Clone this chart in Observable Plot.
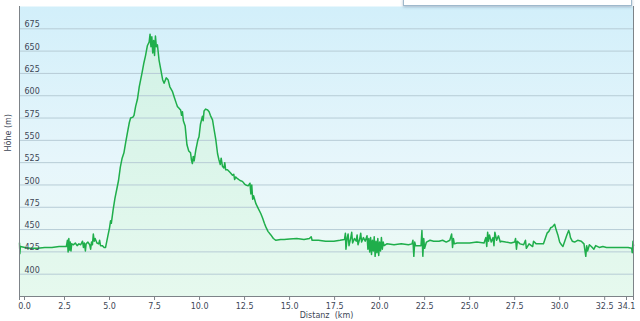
<!DOCTYPE html>
<html>
<head>
<meta charset="utf-8">
<script src="https://cdn.jsdelivr.net/npm/d3@7"></script>
<script src="https://cdn.jsdelivr.net/npm/@observablehq/plot@0.6"></script>
<style>
  html, body { margin: 0; padding: 0; background: #fff; }
  #wrap { position: relative; width: 640px; height: 321px; overflow: hidden; }
  #popup { position: absolute; left: 403px; top: -2px; width: 227px; height: 6px;
           background: #fff; border: 1px solid #9fb9cc; box-shadow: 0 1px 3px rgba(90,120,150,0.5); z-index: 2; }
</style>
</head>
<body>
<div id="wrap"><div id="popup"></div></div>
<script>
// Distance along the route (km)
const distKm = [
  0.00,0.02,0.05,0.3,0.6,1.0,1.4,1.8,2.2,2.6,2.66,2.70,2.74,2.78,2.82,2.86,2.90,3.0,3.1,3.2,
  3.3,3.4,3.5,3.55,3.6,3.66,3.7,3.8,3.9,3.95,4.0,4.05,4.1,4.15,4.2,4.3,4.4,4.45,4.5,4.6,
  4.7,4.78,4.9,5.0,5.06,5.1,5.2,5.3,5.43,5.5,5.6,5.7,5.8,5.9,5.99,6.1,6.17,6.3,6.36,6.45,
  6.55,6.65,6.73,6.8,6.91,7.0,7.1,7.2,7.25,7.3,7.35,7.4,7.45,7.5,7.55,7.6,7.66,7.75,7.84,7.95,
  8.03,8.15,8.25,8.35,8.49,8.6,8.7,8.77,8.9,8.95,9.0,9.05,9.1,9.2,9.3,9.4,9.5,9.55,9.6,9.65,
  9.7,9.79,9.85,9.9,9.97,10.05,10.16,10.2,10.25,10.34,10.45,10.53,10.6,10.72,10.8,10.9,11.0,11.08,11.15,11.2,
  11.27,11.35,11.4,11.45,11.55,11.7,11.83,11.9,11.95,12.0,12.11,12.25,12.38,12.5,12.57,12.7,12.8,12.85,12.9,12.95,
  13.0,13.13,13.25,13.4,13.5,13.6,13.68,13.8,13.96,14.1,14.24,14.5,14.7,15.0,15.4,15.8,16.1,16.2,16.25,16.6,
  17.0,17.46,17.8,18.05,18.1,18.13,18.2,18.25,18.3,18.4,18.45,18.5,18.6,18.7,18.75,18.8,18.9,18.95,19.0,19.1,
  19.2,19.3,19.35,19.4,19.45,19.5,19.55,19.6,19.65,19.7,19.75,19.8,19.85,19.9,19.95,20.0,20.05,20.1,20.15,20.2,
  20.25,20.4,20.8,21.2,21.6,21.8,21.85,21.9,21.95,22.0,22.3,22.35,22.4,22.45,22.5,22.6,22.8,23.0,23.3,23.5,
  23.7,23.9,24.0,24.05,24.1,24.15,24.3,24.6,25.0,25.4,25.8,25.9,25.95,26.0,26.05,26.1,26.2,26.3,26.35,26.4,
  26.5,26.6,26.7,26.75,27.0,27.3,27.5,27.55,27.6,27.65,27.8,28.0,28.1,28.15,28.3,28.5,28.55,28.7,29.0,29.1,
  29.2,29.3,29.4,29.5,29.6,29.72,29.8,29.9,30.0,30.1,30.18,30.3,30.4,30.5,30.55,30.6,30.7,30.83,31.0,31.2,
  31.35,31.45,31.5,31.55,31.65,31.76,31.9,32.0,32.2,32.4,32.6,32.8,33.0,33.4,33.8,34.0,34.03,34.07,34.1
];
// Elevation (m)
const elevM = [
  435,423,431,430,429,429,430,430,431,431,438,425,440,427,436,426,434,433,435,432,
  434,433,437,430,435,426,434,436,433,428,436,433,445,437,440,435,434,438,432,432,
  430,430,442,452,460,457,472,485,498,505,520,530,536,548,558,570,575,576,578,588,
  596,610,618,625,637,645,656,660,669,655,666,648,662,645,667,655,657,640,630,618,
  614,620,618,610,605,598,592,588,585,584,578,582,572,566,545,538,536,528,524,532,
  527,539,545,550,554,568,577,572,583,585,584,582,578,573,563,551,535,528,523,530,
  521,519,525,517,517,514,511,512,506,509,507,505,504,501,500,499,502,490,500,484,
  488,479,474,468,463,457,453,448,444,440,438,439,439,439.5,440,439,440,442,438,438,
  437,437,438,439,446,428,441,445,432,441,447,435,440,437,444,433,440,446,436,441,
  437,443,428,440,425,441,422,438,426,442,420,437,424,440,421,436,426,441,428,436,
  432,434,433,434,433,434,438,420,436,432,432,449,420,440,429,436,438,437,437,438,
  436,438,445,430,440,434,435,435,435,436,435,441,431,447,437,444,436,441,432,447,
  438,443,436,437,436,435,436,440,428,437,434,433,438,429,434,431,437,434,434,434,
  440,446,448,452,453,456,450,444,436,433,431,438,444,449,446,441,437,436,438,437,
  434,420,432,426,433,431,428,432,430,431,430,430,430,430,430,429,424,437,432
];
const xTicks = [0, 2.5, 5, 7.5, 10, 12.5, 15, 17.5, 20, 22.5, 25, 27.5, 30, 32.5, 34.1];
const yTicks = [400, 425, 450, 475, 500, 525, 550, 575, 600, 625, 650, 675];
const xDomain = [0, 34.1];
const yDomain = [375, 700];
const xTitle = "Distanz  (km)";
const yTitle = "Höhe (m)";

const data = distKm.map((d, i) => ({km: d, m: elevM[i]}));

const defs = (index, scales, values, dims) => {
  const top = dims.marginTop, bottom = dims.height - dims.marginBottom;
  const g = d3.create("svg:defs");
  const bg = g.append("linearGradient").attr("id", "bgGrad")
    .attr("gradientUnits", "userSpaceOnUse").attr("x1", 0).attr("x2", 0).attr("y1", top).attr("y2", bottom);
  bg.append("stop").attr("offset", "0%").attr("stop-color", "#d2effa");
  bg.append("stop").attr("offset", "55%").attr("stop-color", "#e7f6fb");
  bg.append("stop").attr("offset", "100%").attr("stop-color", "#eefbf3");
  const ar = g.append("linearGradient").attr("id", "areaGrad")
    .attr("gradientUnits", "userSpaceOnUse").attr("x1", 0).attr("x2", 0).attr("y1", top).attr("y2", bottom);
  ar.append("stop").attr("offset", "0%").attr("stop-color", "#d0f1e6");
  ar.append("stop").attr("offset", "100%").attr("stop-color", "#e6f9ee");
  return g.node();
};

const font = "DejaVu Sans, Verdana, sans-serif";
const axisOpts = {tickSize: 4, tickPadding: 3, tickFormat: d => d.toFixed(1), stroke: "#7d8388", fill: "#3d4656", fontSize: 8, label: null};
const chart = Plot.plot({
  width: 640,
  height: 321,
  marginLeft: 19,
  marginRight: 7,
  marginTop: 6,
  marginBottom: 25,
  style: {fontFamily: font, fontSize: "8px", color: "#3d4656", background: "transparent", overflow: "visible"},
  x: {domain: xDomain, axis: null},
  y: {domain: yDomain, axis: null},
  marks: [
    defs,
    Plot.frame({fill: "url(#bgGrad)", stroke: null}),
    Plot.areaY(data, {x: "km", y1: () => yDomain[0], y2: "m", fill: "url(#areaGrad)", curve: "linear"}),
    Plot.gridY(yTicks, {stroke: "#b7ccd6", strokeOpacity: 1, strokeWidth: 1}),
    Plot.lineY(data, {x: "km", y: "m", stroke: "#1fae4b", strokeWidth: 1.5, curve: "linear"}),
    Plot.ruleX([xDomain[0]], {stroke: "#7d8388", strokeWidth: 1}),
    Plot.ruleY([yDomain[0]], {stroke: "#7d8388", strokeWidth: 1}),
    Plot.text(yTicks, {y: d => d, text: d => String(d), frameAnchor: "left", textAnchor: "start", dx: 5, dy: -4, fill: "#3d4656", fontSize: 8}),
    Plot.axisX(xTicks.slice(1, -1), axisOpts),
    Plot.axisX([xTicks[0]], {...axisOpts, dx: 5}),
    Plot.axisX([xTicks[xTicks.length - 1]], {...axisOpts, dx: -7}),
    Plot.tickX([xTicks[0], xTicks[xTicks.length - 1]], {x: d => d, y1: () => yDomain[0], y2: () => yDomain[0], stroke: "#7d8388", marginBottom: 0, insetBottom: -4}),
    Plot.text([xTitle], {frameAnchor: "bottom", dy: 21, fill: "#3d4656", fontSize: 8}),
    Plot.text([yTitle], {frameAnchor: "left", dx: -11, rotate: -90, fill: "#3d4656", fontSize: 8})
  ]
});
document.getElementById("wrap").prepend(chart);
chart.style.position = "absolute";
chart.style.left = "0px";
chart.style.top = "0px";
</script>
</body>
</html>
